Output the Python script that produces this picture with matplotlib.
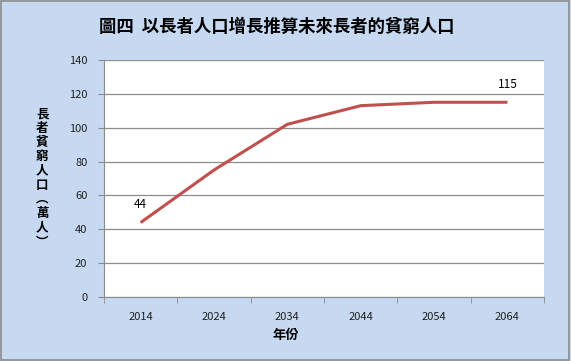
import numpy as np
import matplotlib.pyplot as plt
from matplotlib.patches import Rectangle

plt.rcParams['font.family'] = ['Noto Sans CJK TC', 'DejaVu Sans']

years = ['2014', '2024', '2034', '2044', '2054', '2064']
poor_elderly = [44, 75, 102, 113, 115, 115]

bg = '#c6d9f1'
fig = plt.figure(figsize=(5.71, 3.61), dpi=100, facecolor=bg)
fig.patches.append(Rectangle((0.002, 0.003), 0.995, 0.993, transform=fig.transFigure,
                             fill=False, edgecolor='#8c8c8c', lw=1.2))

ax = fig.add_axes([0.182, 0.177, 0.771, 0.657])
ax.set_facecolor('white')
x = np.arange(len(years))
ax.plot(x, poor_elderly, color='#c0504d', lw=2.2, solid_capstyle='butt')

ax.set_xlim(-0.5, len(years) - 0.5)
ax.set_ylim(0, 140)
ax.set_yticks(range(0, 141, 20))
ax.yaxis.grid(True, color='#8c8c8c', lw=0.9)
ax.set_axisbelow(True)
ax.set_xticks(x)
ax.set_xticklabels(years)
ax.set_xticks(np.arange(-0.5, len(years)), minor=True)
ax.tick_params(axis='x', which='major', length=0, pad=11, labelsize=8, labelcolor='#222222')
ax.tick_params(axis='x', which='minor', length=4, color='#8c8c8c')
ax.tick_params(axis='y', length=4, color='#8c8c8c', labelsize=8, labelcolor='#222222', pad=8)
for s in ['top', 'right']:
    ax.spines[s].set_visible(False)
for s in ['left', 'bottom']:
    ax.spines[s].set_color('#8c8c8c')

ax.annotate(str(poor_elderly[0]), (x[0], poor_elderly[0]), xytext=(0, 13),
            textcoords='offset points', ha='center', va='center', fontsize=8.5)
ax.annotate(str(poor_elderly[-1]), (x[-1], poor_elderly[-1]), xytext=(0, 13),
            textcoords='offset points', ha='center', va='center', fontsize=8.5)

fig.text(0.485, 0.925, '圖四  以長者人口增長推算未來長者的貧窮人口', ha='center', va='center',
         fontsize=12.5, fontweight='bold')
fig.text(0.5, 0.072, '年份', ha='center', va='center', fontsize=9.5, fontweight='bold')
fig.text(0.074, 0.507, '\n'.join('長者貧窮人口︵萬人︶'), ha='center', va='center',
         fontsize=9, fontweight='bold', linespacing=1.12)

fig.savefig('out.png', dpi=100, facecolor=bg)
